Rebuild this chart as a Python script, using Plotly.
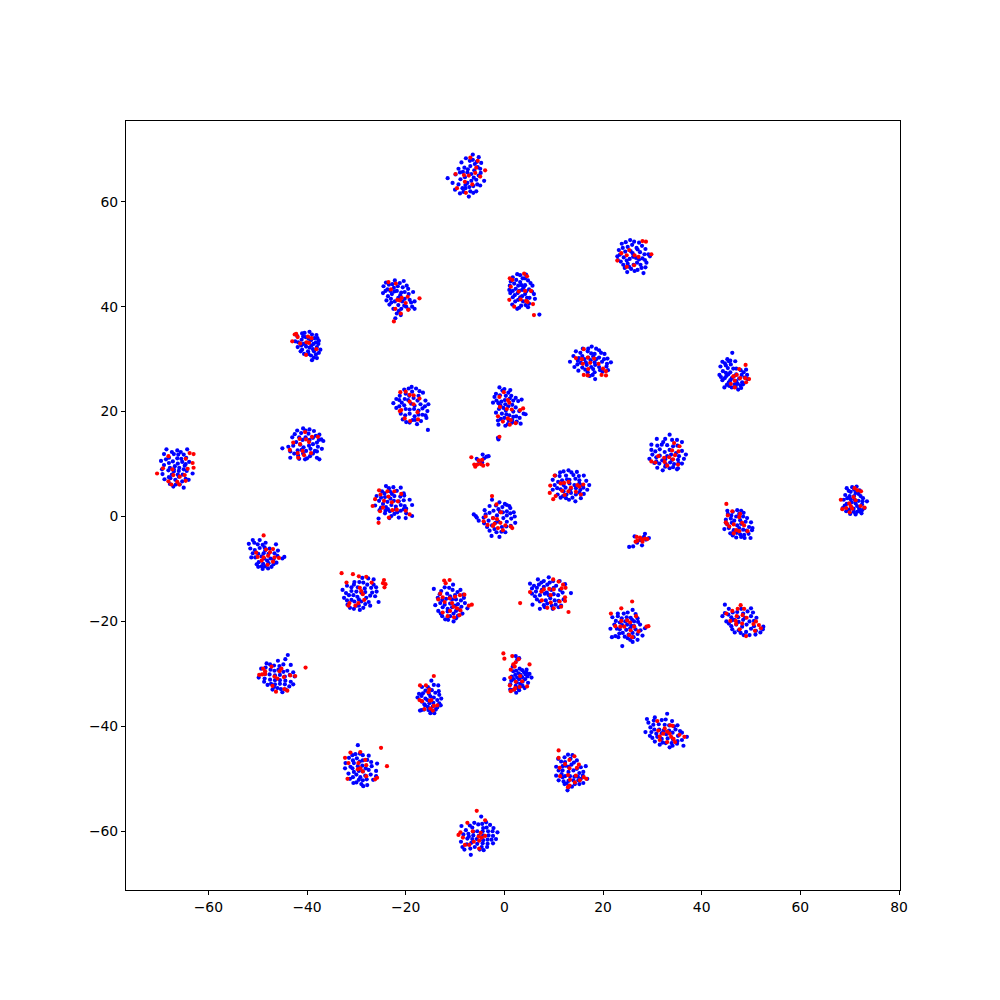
import plotly.graph_objects as go

blue_01 = [(-6.4,69.0),(-5.2,68.5),(-7,67.8),(-4.7,67.4),(-8.7,67.5),(-6.9,66.8),(-9.3,66.3),(-8.1,66.5),(-4.9,66.3),(-7.5,65.6),(-9.9,65.2),(-11.5,64.5),(-10.5,63.6),(-4.1,64),(-6.2,64.6),(-8.9,64.3),(-7.5,63.6),(-5.5,63.3),(-7.9,62.6),(-9,61.6),(-10,62.3),(-6.9,62),(-7.2,61),(-5.7,62),(-6.3,63),(-8.5,62.6),(-5.2,65),(-6.1,66),(-6.7,64),(-7.9,63.2),(-6.4,68),(-5.6,67.6),(-8.4,65.7),(-7.1,62.8),(-7.8,68.3),(-6,67.2),(-7.4,66.2),(-5.4,66.6),(-9,65.6),(-6.7,65.3),(-4.8,65.5),(-8,64.7),(-5.7,64.2),(-9.3,63.3),(-4.9,63.1),(-6.3,61.7),(-8.3,61.9)]
red_01 = [(-6.9,68.4),(-5.4,67.8),(-3.9,66),(-5.7,66.5),(-8.2,65.1),(-7.2,65),(-9.9,65.3),(-5.9,65.5),(-8,63.8),(-6.5,63.3),(-9.6,62.6),(-7.8,61.7),(-4.9,64.8)]
blue_02 = [(25.5,52.7),(27.3,52.2),(23.8,52),(25,51.4),(26.8,51.2),(28.6,51),(23.2,50.8),(24.5,50.5),(26,50.2),(27.5,50.4),(29.2,50),(22.9,49.6),(24.2,49.4),(25.4,49.1),(26.7,49.3),(28,49.2),(29.5,49.6),(23.6,48.6),(25,48.2),(26.2,48),(27.6,48),(28.8,48.4),(24.4,47.4),(25.7,47.2),(27,47),(28.2,46.4),(26.4,46.8),(24.9,46.6),(25.9,51.8),(24.1,48),(24.6,52.3),(26.3,52.4),(27.9,51.6),(24,51.2),(25.6,50.6),(27,50.9),(28.4,50),(23.4,49.9),(26.1,49.5),(27.3,49),(28.5,48.9),(23,48.9),(24.8,48.8),(26.9,48.4),(25.3,47.6),(27.8,47.4),(28.6,47.5)]
red_02 = [(28,52.5),(28.7,52.4),(23.7,50.2),(25.3,50.8),(26.4,49.8),(24.8,49.8),(27.2,49.5),(22.9,48.8),(24.8,47.6),(26.3,47.9),(29.8,50)]
blue_03 = [(-22.2,45),(-20.4,44.9),(-24,44.6),(-22.7,44.3),(-24.5,43.9),(-21.6,43.9),(-19.8,44),(-23.7,43.3),(-21.8,43),(-24.6,42.6),(-20.2,42.8),(-22.8,42.4),(-23.6,42),(-21.5,41.7),(-18.5,42.8),(-22.2,41),(-20.2,41.5),(-18.2,41),(-18.7,40),(-23.3,40.4),(-21.5,40.3),(-19.9,40),(-20.9,39.6),(-22.5,39.6),(-21.8,38.7),(-22.1,37.8),(-21,38.4),(-18.2,39.6),(-23.1,43),(-20.9,42.7),(-19.5,43.4),(-22.4,43.6),(-21.2,44.5),(-23.4,44.2),(-20.6,43.7),(-22.3,42.9),(-24.1,43),(-19.4,42.4),(-21.1,42.2),(-23,41.5),(-19.2,41.3),(-20.7,41),(-22.9,40.8),(-18.9,40.8),(-20.3,40.2),(-21.4,39.2),(-19.4,39.5),(-23.9,41.2)]
red_03 = [(-23.5,44.7),(-22,44.4),(-23,43.3),(-19.6,41.9),(-21.7,41.3),(-21.2,41.2),(-20.8,41.7),(-17.2,41.6),(-20,40.7),(-22.1,39.6),(-21,38.7),(-19.5,39.4),(-22.4,37.2)]
blue_04 = [(2.6,46.2),(4.4,46.1),(1.7,45.6),(3.7,45.4),(1.3,44.8),(3.2,44.7),(4.8,45),(1.1,44),(2.8,44),(4.2,44.1),(5.7,44),(1,43.2),(2.3,43.4),(3.6,43.2),(5,43.3),(1.2,42.6),(2.7,42.6),(4.2,42.4),(6,42.4),(1.7,41.8),(3.2,41.8),(5.1,41.7),(6.2,41.5),(2.2,41),(3.8,41),(5,40.6),(1.6,40.4),(3.4,40.2),(4.8,39.9),(2.6,39.6),(7.1,38.5),(3.9,43.7),(3.2,46),(2.4,45.1),(4.2,45.4),(5.3,44.5),(2,44.4),(3.5,44.1),(1.7,43),(3,43),(4.4,42.9),(5.6,42.9),(2.1,42.2),(3.6,42),(4.6,41.7),(2.8,41.3),(4.3,40.3),(3,39.8)]
red_04 = [(1.1,45.4),(1.6,45.1),(4,46.3),(4.6,45.8),(1.3,43.8),(2.9,42.9),(4.2,43),(5.4,43),(1,41.3),(3.3,41.4),(4.4,41.1),(4.7,40.9),(2,40),(5.8,40.5),(6,38.4)]
blue_05 = [(-39.5,35.2),(-41,34.9),(-38.1,34.6),(-42,34.4),(-40.3,34.2),(-37.9,34),(-41.1,33.7),(-39.2,33.6),(-42.4,33.4),(-40.3,33),(-37.6,33.5),(-38.7,32.9),(-41.2,32.6),(-39.5,32.2),(-38,32.3),(-37.3,31.8),(-41,31.8),(-39.8,31.5),(-38.6,31.5),(-40.6,31),(-38.2,30.9),(-39.2,30.7),(-39,29.8),(-38,30.2),(-41.9,32.3),(-37.7,32.9),(-40.5,35),(-39,34.7),(-40.8,34.3),(-38.5,34),(-41.8,33.2),(-39.7,33.9),(-38.2,33.2),(-40.7,32.9),(-39.1,32.6),(-40.2,32.4),(-38.8,31.9),(-41.3,31.5),(-37.6,31.2),(-39.7,31),(-38.6,30.3)]
red_05 = [(-42.5,34.7),(-41.9,34.2),(-43,33.4),(-40.1,33.2),(-39.6,33.1),(-39.8,34.3),(-41.4,33),(-38.1,31.9),(-40.2,30.8),(-39.1,34),(-42.2,34.8)]
blue_06 = [(17.7,32.4),(15.9,32),(19.2,31.7),(14.5,31.5),(16.9,31.5),(18.3,31),(20.3,31),(14,30.6),(15.8,30.6),(17,30.3),(19.2,30.3),(20.9,30.1),(13.3,29.5),(14.9,29.7),(16.5,29.4),(18.3,29.4),(19.8,29.5),(21.6,29.4),(14.2,28.5),(15.8,28.4),(17.6,28.5),(19.2,28.5),(20.7,28.6),(15,27.8),(16.9,27.5),(18.3,27.5),(19.9,27.6),(21,27.9),(17.3,26.8),(18.4,26.2),(16.2,30),(18,30.5),(17,32),(18.6,32),(15.4,31.2),(17.6,31.1),(19.6,31.2),(15.1,30.2),(18.6,30),(20.2,30),(15.5,29.3),(17.5,29.8),(20.8,29.1),(14.8,29),(16.7,28.9),(18.4,28.9),(16.4,28),(18,28.1),(19.4,27.9),(17.9,27)]
red_06 = [(16.1,31.9),(14.5,30.2),(15.7,30),(16.9,30.3),(18.2,30.1),(15.9,29.1),(17.4,29.3),(19.1,29.1),(17,28.1),(20,28.2),(20.6,27.7),(16.1,27),(16.9,26.9),(19.7,27),(20.6,26.9)]
blue_07 = [(46.2,31.2),(45.2,30),(46.8,29.6),(44.7,29.2),(45.9,29),(43.8,28.6),(45.3,28.3),(47,28.2),(44.3,27.7),(45.8,27.5),(47.9,27.9),(49,28),(43.6,27),(45,26.8),(46.5,26.7),(48.1,27),(49.2,27),(44.2,26),(45.8,26),(47,25.8),(48.2,25.6),(45.1,25.1),(46.7,25.2),(47.9,25),(44.6,24.6),(46.1,24.6),(47.4,24.2),(49.3,26.2),(45.8,29.7),(44.9,27.4),(44.2,29.5),(45.5,29.6),(44.9,28.8),(46.4,28.2),(43.9,26.6),(45.4,27.1),(47,27.1),(48.5,27.5),(44.7,26.4),(46.1,26.4),(47.6,26.3),(48.7,26.5),(45.5,25.6),(47.3,25.3),(48.4,25.2),(45.6,24.9),(46.9,24.7),(48,24.5)]
red_07 = [(48.9,28.9),(47.6,28.1),(47.1,27),(46.4,26.7),(48.8,26.4),(46.7,25.9),(47.8,26.4),(49,25.6),(49.6,26.2),(45.9,25.3),(46.7,24.6)]
blue_08 = [(-18.8,24.7),(-17.9,24.4),(-20.3,24.2),(-18.7,23.8),(-20,23.4),(-16.5,23.6),(-21.9,22.4),(-20.2,22.4),(-18.4,22.6),(-16,22.1),(-22.5,21.6),(-20.8,21.7),(-18.9,21.5),(-17,21.4),(-15.4,21.4),(-21.9,20.7),(-20,20.5),(-18.3,20.5),(-16.6,20.6),(-15.6,20.1),(-21,19.6),(-19.2,19.6),(-17.4,19.4),(-16,19.3),(-20.6,18.5),(-18.6,18.4),(-16.9,18.2),(-15.8,18.8),(-19.9,18),(-17.7,17.6),(-15.5,16.5),(-21.3,21),(-19.4,24.4),(-17.2,23.9),(-21.2,23),(-19.3,23),(-17.4,23),(-21.3,22.2),(-19.5,22.2),(-17.6,22.1),(-20.3,21.2),(-18.2,21.1),(-16.1,21),(-19.2,20.4),(-17.4,20.2),(-20.1,19.3),(-18.2,19.1),(-16.6,19.4),(-19.2,17.9),(-18.1,18.4)]
red_08 = [(-21.1,23.7),(-20,23.8),(-19.2,23.2),(-18.4,23.1),(-17.2,22.5),(-19.2,21.9),(-18.4,21.4),(-21.2,20.1),(-20.9,20.3),(-17.6,19.9),(-20.2,18.7),(-17.5,18.5),(-19.1,18.2)]
blue_09 = [(-1,24.6),(-0.4,24),(1.2,24.1),(-1.7,23.4),(0.3,23),(2.3,22.6),(-1.6,22.1),(0.1,22.2),(1.8,22.1),(3.5,22.3),(-2.3,21.7),(-0.8,21.2),(0.8,21),(2.3,20.8),(-1.1,20.5),(0.3,20.2),(1.8,20),(3.9,19.6),(4.3,19.5),(-0.5,19.6),(1,19.3),(2.4,19.1),(-0.7,18.6),(0.9,18.3),(2.5,18.1),(-1.3,18.3),(1.6,17.9),(3.3,17.7),(0.2,17.3),(-1.2,17.5),(-0.6,21.9),(1.4,23),(0,24.3),(0.8,23.6),(-0.9,23.1),(-2,22.8),(1.1,22.5),(2.8,22),(-1.2,21.6),(0.2,21.4),(1.6,21.3),(-0.2,20.7),(3,20.1),(-1.7,19.8),(0.4,19.5),(1.8,19),(3.1,18.8),(0,18.8),(1.6,18.4),(0.7,17.6)]
red_09 = [(-0.1,23.7),(-1,22.8),(0.7,22.2),(1,21.7),(-0.9,20.9),(0.5,20.5),(1.5,20.4),(3.2,20.3),(3.8,20.6),(-1.3,19.1),(0.7,18.7),(1.3,18.4),(-0.3,18.1),(1.1,17.5),(2.3,17.8)]
blue_10 = [(-40.8,16.8),(-39.5,16.6),(-42,16.4),(-38.6,16.3),(-41.2,15.9),(-39.7,15.8),(-37.5,15.6),(-43,15.1),(-41.6,15.1),(-40.3,15.1),(-38.8,15),(-37.1,14.7),(-42.2,14.2),(-38,14.1),(-36.7,14.4),(-42.8,13.5),(-40.7,13.2),(-39.6,13.5),(-37.8,13.3),(-37,12.9),(-45,13),(-43.4,12.4),(-41.9,12.6),(-40.2,12.5),(-38.4,12.5),(-43.4,11.2),(-41.8,11.6),(-40,11.1),(-38,11.2),(-41.6,11),(-40.4,10.9),(-38.8,12),(-37.5,10.9),(-40.3,16.4),(-42.5,15.7),(-38.2,15.4),(-40.9,14.6),(-39.5,14.6),(-37.6,14.6),(-41.4,13.7),(-38.8,13.8),(-43.8,13.3),(-41.1,12.7),(-39.3,12.9),(-38,12.4),(-42.6,12),(-40.8,12),(-39.4,11.5)]
red_10 = [(-40.4,16.1),(-39,15.2),(-41.5,14.8),(-40.2,14.7),(-37.8,15.2),(-42.8,14.1),(-41.4,13.8),(-39.6,14.2),(-43.5,12.7),(-41.9,12.1),(-40.9,12.5),(-39.2,12.1),(-41.8,11.2),(-40.6,11.7)]
blue_11 = [(33.5,15.6),(30.9,14.8),(32.2,14.2),(34,14.6),(36,14.2),(29.8,13.7),(31,13.5),(33,13.6),(35.1,13.5),(29.8,12.7),(31.5,12.8),(33.5,12.7),(36,12.5),(30,11.8),(31.5,11.6),(33.8,11.8),(35.4,11.5),(29.4,11),(32,10.7),(34,10.8),(36.4,11),(30.4,10.2),(32.7,10),(34.4,10),(36,10.1),(31,9.3),(33.5,9.2),(35.2,9.2),(32.1,8.8),(35,9),(30.8,10.5),(33,11.5),(36.8,11.8),(32.6,14.8),(35,14.6),(31.9,13.7),(34.2,13.4),(30.6,12.4),(32.5,12.3),(34.8,12.1),(30.8,11.3),(32.6,10.9),(35.2,10.8),(31.4,10.1),(33.6,10.3),(35.3,10.2),(32.6,9.5),(34.2,9.4)]
red_11 = [(34.4,14),(35.5,13.4),(34,12.6),(35.3,12.4),(31.2,11.5),(32.4,11.2),(33.4,11.3),(34.6,11.7),(34.2,10.9),(29.8,10.5),(30.6,10.3),(33,9.7),(35.2,9.9),(32.5,10.4)]
blue_12 = [(-4.4,11.8),(-5.6,11),(-4.1,11.1),(-3.6,11.4),(-4.5,10.3),(-5.2,10.6),(-1.3,15),(-1.2,14.7),(-3.2,11.5)]
red_12 = [(-6.7,11.3),(-5.2,10.7),(-4.5,10.8),(-4.8,10),(-3.4,9.9),(-5.9,9.5),(-5.5,9.9),(-4.3,9.7),(-1,15.2),(-6.1,9.9)]
blue_13 = [(-68.5,12.8),(-66.3,12.6),(-64.3,12.8),(-69,11.9),(-67,11.9),(-65,11.8),(-68,11.2),(-66.3,11.1),(-64.5,11.2),(-69.6,10.6),(-67.2,10.5),(-65.3,10.4),(-63.9,10.4),(-69,9.8),(-66.8,9.6),(-64.8,9.7),(-68.1,8.8),(-66,8.7),(-64.4,8.7),(-69.3,8.1),(-67.4,8),(-65.2,8),(-63.2,8.2),(-68.9,7.1),(-66.7,7),(-64.6,7.2),(-67.8,6.2),(-65.8,6.1),(-64,7),(-67.1,5.7),(-65,5.5),(-66,7.6),(-67,9),(-68,7.5),(-67.4,12.3),(-65.6,12.3),(-66.1,11.8),(-68.6,10.9),(-65.5,11),(-68,10.2),(-66.2,10.1),(-64.6,10),(-67.8,9.3),(-65.9,9.3),(-69.4,9),(-67,8.6),(-65,9),(-66.2,8),(-67.7,7.3),(-65.3,6.7),(-66.6,6.1)]
red_13 = [(-68.1,11.5),(-63.8,12.1),(-63,11.9),(-64.6,11),(-63.2,10.2),(-69.2,9.2),(-63,9.3),(-64.2,9.1),(-67.3,9),(-70.4,8.2),(-67.1,7.9),(-65.8,7.6),(-64.8,7.9),(-68.1,6.7),(-66.3,6.6),(-64.6,6.8),(-65.9,6.1),(-67.5,6.1)]
blue_14 = [(13,8.8),(11.3,8.4),(14.7,8.5),(10.3,7.8),(12.5,7.8),(14,7.9),(16.1,7.8),(9.8,7),(11.7,6.9),(13.2,7),(15.2,6.9),(16.6,6.8),(10.2,6),(12,6),(14.2,6),(15.8,6),(17.2,6),(9.8,5.1),(11.4,5.2),(13.4,5.2),(15.4,5.1),(16.8,5.1),(10.8,4.2),(12.6,4.2),(14.5,4.2),(16.1,4.3),(11.4,3.6),(13.8,3.6),(15.5,3.5),(13.1,3.2),(14.4,2.9),(12,4.8),(12,8.6),(13.6,8.4),(11.2,7.7),(15.1,7.7),(12.7,7.1),(14.4,7.2),(10.9,6.6),(13.2,6.3),(15.2,6.3),(10.7,5.4),(12.4,5.5),(14.5,5.4),(16,5.5),(13.5,4.5),(11.9,3.9),(15.2,4.6),(12.5,3.5)]
red_14 = [(10.2,7.8),(13,6.6),(11.4,6.3),(12.1,6.4),(14.8,6),(16,6.1),(9.3,5.9),(13.5,5.5),(15.2,5.7),(11.7,4.9),(13,4.8),(14.5,4.7),(12.2,4.1),(9.2,4.5),(10.4,3.9),(9.9,3.3),(15.5,4.2)]
blue_15 = [(70.5,5.6),(71.4,5.7),(69.4,5.4),(72,5),(70.2,4.7),(71.8,4.3),(69.1,4.1),(70.9,3.9),(72.7,3.5),(68.8,3.2),(70.2,3.3),(71.8,3),(73.5,2.9),(69.4,2.4),(71.2,2.5),(72.5,2.3),(68.6,1.6),(70.3,1.8),(71.9,1.5),(73,1.6),(69.3,1),(70.8,0.9),(72,1),(70.1,0.5),(71.2,0.4),(72.4,0.6),(70.9,5.1),(69.8,4.9),(71.2,4.5),(70,3.9),(72.2,3.9),(69.5,3.5),(71,3.2),(72.6,2.9),(70.4,2.7),(69,2.1),(71.5,2),(70.8,1.5),(72.5,1.2),(69.9,1.3),(71.5,0.9)]
red_15 = [(71,5.4),(71.6,5),(72.3,4.8),(70.8,3.7),(71.2,3.1),(68.2,3.2),(69.9,2.5),(70.2,2),(72.2,2),(69.3,1.6),(68.5,1.4),(70.5,1.5),(70,0.8),(73,1.7)]
blue_16 = [(-24,5.8),(-22.5,5.6),(-21,5.5),(-24.8,4.8),(-23.2,4.8),(-20.4,4.4),(-25.9,3.9),(-24.2,3.7),(-22.3,3.9),(-20.3,4),(-25.4,3),(-23.7,2.8),(-21.4,2.9),(-19.2,3.2),(-26.2,2.1),(-24,1.8),(-22,1.9),(-20.2,2),(-25.3,1.2),(-23.2,1),(-21,1.1),(-18.7,2.2),(-24.2,0.6),(-22.3,0.5),(-19.9,0.6),(-18.7,0.1),(-23.3,-0.3),(-21.4,-0.2),(-25.5,-0.4),(-20,-0.3),(-19.9,1.5),(-22.4,3),(-23.4,5.4),(-21.8,4.9),(-24.3,4.4),(-22.8,4.3),(-21.1,3.8),(-25,3.6),(-23.1,3.4),(-20.4,3.1),(-24.6,2.4),(-22.9,2.2),(-21,2.2),(-25,1.7),(-23.6,1.4),(-22,1.3),(-20.4,1.4),(-24.1,1.1),(-21.7,0.8),(-22.9,0.1)]
red_16 = [(-25.4,5),(-25.1,4.2),(-23.7,4.8),(-22.3,4.8),(-20.9,4.3),(-23.5,3.8),(-24.4,3),(-22.8,2.7),(-26.2,3.3),(-21.6,2.9),(-26.7,2),(-24.6,1.7),(-22.7,1.2),(-21.8,1.3),(-20,1.1),(-25.2,1),(-23.4,-0.2),(-19.2,0.4),(-25.5,-1.2)]
blue_17 = [(-2.5,3.2),(-1,2.7),(0.5,2.2),(-3,2),(-0.4,1.8),(1.2,1.6),(-4,1.2),(-2.2,1.1),(0.5,1),(1.9,0.8),(-6.2,0.4),(-5.6,-0.2),(-3.8,0.4),(-1.5,0.2),(0.5,0.2),(2.1,0),(-5.2,-0.8),(-3.2,-0.8),(-1.2,-1),(0.5,-1),(-2.5,-1.7),(-0.5,-2),(1.3,-1.8),(-3,-2.7),(-1.6,-3),(0.2,-3),(-2.6,-3.7),(-1,-3.9),(2.2,-1.2),(-0.3,0.8),(-4.2,-0.2),(-1.7,2.1),(0.1,2.4),(-1.2,1.4),(1,2),(-3,0.7),(-0.9,0.9),(1.2,0.6),(-2.3,-0.3),(-0.2,-0.3),(1.4,-0.4),(-4.1,-1.3),(-1.8,-1.2),(0.4,-1.9),(-3.5,-2),(-0.6,-2.9),(-2,-2.4),(-5.8,0.1)]
red_17 = [(-2.5,3.9),(-1.6,2.3),(-0.7,0.8),(-3.8,0),(-2.3,-0.3),(-1.5,-0.5),(-4.2,-0.9),(-2,-1.4),(-0.8,-1.2),(-2.3,-1.8),(0.2,-1.7),(1.3,-1.9),(-1.3,-2.2),(-0.3,-2.6),(1.6,-2.2),(-3.4,-1.6)]
blue_18 = [(45.2,1.1),(47.2,1.2),(48.5,0.7),(46,0.2),(48.4,0),(44.9,-0.6),(46.6,-0.8),(48.9,-1),(50,-1.1),(45.2,-1.5),(47.2,-1.7),(49.6,-2),(44.6,-2.4),(46.5,-2.6),(48.4,-2.5),(50.2,-2.6),(45.8,-3.2),(47.8,-3.4),(49.5,-3.3),(47,-4),(48.7,-4.1),(49.9,-4.1),(46.4,-3),(50.3,-2.2),(44.9,-1.2),(47.6,0.5),(46.3,0.9),(48,1.1),(45.3,0.5),(47,0),(45.9,-0.4),(47.8,-0.7),(49.2,-0.3),(46.1,-1.2),(48,-1.4),(45.5,-2.2),(47.6,-2.2),(49.1,-2.7),(47.1,-3.1),(48.6,-3.5),(46.3,-3.6),(48,-3.9)]
red_18 = [(45,2.4),(46.2,1),(47.8,0.5),(45.3,0.2),(47.6,-0.1),(44.9,-1.1),(46.5,-1.5),(48.6,-1.7),(45.6,-1.9),(47,-2.6),(49.3,-2.8),(47.6,-2.8),(45.1,-1.4),(48.2,-1.2),(46.5,-3.2)]
blue_19 = [(28.5,-3.3),(26.4,-3.8),(27.5,-4.5),(26.9,-5),(26.1,-5.7),(27.9,-5.5),(28.7,-4.4),(29.3,-4.1),(25.3,-5.8),(28.3,-3.9)]
red_19 = [(26.8,-3.9),(27.5,-4),(27,-4.6),(28.5,-4.2),(27.9,-4.4),(26.6,-4.8),(28,-4.8),(29,-4.3)]
blue_20 = [(-51,-4.5),(-49.6,-4.5),(-48.4,-5),(-51.8,-5.2),(-50,-5.3),(-46.3,-5.3),(-51.5,-6.1),(-49.6,-6),(-47.6,-6.1),(-45.9,-6.5),(-51,-7),(-48.8,-7),(-46.6,-7),(-44.6,-7.7),(-45,-8),(-50.5,-7.8),(-48.7,-8),(-47.4,-8),(-49.8,-8.7),(-47.8,-8.9),(-46.2,-8.8),(-49.2,-9.5),(-47.2,-9.6),(-46.8,-8.2),(-48.6,-5.9),(-50.2,-9.1),(-49,-10),(-50.7,-5),(-49,-5.4),(-50.6,-6.4),(-48.5,-6.5),(-49.9,-7.1),(-47.8,-7.1),(-46,-7.5),(-49.2,-7.6),(-51.3,-7.8),(-48.1,-8.4),(-48.9,-9),(-46.8,-9.1),(-47.9,-9.9),(-49.9,-9.6),(-48.5,-9.5)]
red_20 = [(-48.8,-3.6),(-46.9,-6.2),(-48.3,-6.3),(-47.5,-6.8),(-46.6,-7.8),(-45.7,-7.9),(-50.3,-6.9),(-50,-7.7),(-47.9,-7.5),(-49.2,-8.4),(-48,-9.2),(-46.9,-8.6),(-48.8,-7.8)]
blue_21 = [(-28.8,-11.7),(-27.6,-11.8),(-29.4,-12.5),(-27.8,-13),(-26.5,-13),(-31.9,-13.2),(-29.7,-13.5),(-28.3,-13.7),(-26,-13.5),(-32.8,-14),(-31,-14.2),(-29,-14.5),(-26.8,-14.5),(-31.5,-15),(-29.8,-15.3),(-28,-15.5),(-26.2,-15.2),(-32.5,-15.5),(-31,-15.9),(-29,-16.2),(-27.5,-16.3),(-25.5,-16.3),(-31.8,-16.8),(-30,-17),(-28.6,-17.4),(-31.3,-17.4),(-29.3,-17.8),(-27.2,-17),(-30.5,-13),(-26.5,-12),(-30.4,-12.5),(-28.6,-12.6),(-31,-13.5),(-27,-13.6),(-30,-14.3),(-28.2,-14.4),(-25.9,-14.3),(-32.1,-14.6),(-30.6,-15),(-27.2,-15.1),(-29.5,-15.8),(-31.9,-16),(-28.2,-16.7),(-30.4,-16.2),(-29.5,-17),(-30.5,-17.6)]
red_21 = [(-33,-10.8),(-30.7,-11),(-29.5,-11.4),(-28,-11.5),(-32,-12.6),(-26.9,-12.6),(-24.4,-12.1),(-24.6,-12.7),(-24.1,-12.9),(-24.3,-13.5),(-29.3,-13.6),(-29,-14.2),(-28.7,-14.8),(-31.6,-17),(-31.4,-16.5),(-29.6,-16.5),(-30.2,-17),(-28.4,-15.9)]
blue_22 = [(-10.4,-13),(-14.3,-13.8),(-12.1,-13.5),(-10.5,-14),(-8.9,-14),(-13.1,-14.8),(-11.6,-14.7),(-10,-15),(-8.3,-14.9),(-13.5,-15.5),(-11.8,-15.7),(-9.8,-15.8),(-8.2,-15.5),(-13,-16.5),(-11,-16.6),(-9.4,-16.7),(-12.5,-17.3),(-10.6,-17.3),(-8.7,-17.2),(-7.5,-17.5),(-13.4,-18),(-11.5,-18.1),(-9.8,-18),(-12.6,-19),(-11,-19),(-9.4,-18.9),(-12,-19.6),(-10.3,-20),(-8.5,-18.5),(-14,-16.9),(-11.2,-13.6),(-12.8,-14.2),(-9.5,-14.4),(-11,-15.2),(-12.6,-15.9),(-10.6,-15.8),(-8.8,-16),(-12.1,-16.8),(-10,-17),(-8,-16.5),(-11.5,-17.6),(-9.2,-17.7),(-12.9,-18.5),(-10.3,-18.5),(-11.4,-19.7),(-9.8,-19.4)]
red_22 = [(-12.2,-12.2),(-11.9,-12.7),(-11.1,-12.1),(-13,-14.7),(-12.5,-15.4),(-11.1,-15.6),(-10,-15.3),(-9,-15),(-8.1,-14.9),(-13.4,-15.8),(-12.1,-16.3),(-10.6,-16.5),(-10.3,-17.2),(-11,-18),(-9.6,-17.5),(-8.9,-17.9),(-12.5,-18.3),(-11.5,-19),(-10.2,-19.2),(-9.1,-18.8),(-7.2,-17),(-6.6,-16.8)]
blue_23 = [(9,-11.6),(6.8,-12),(8,-12.3),(9.9,-12.3),(11.2,-12.3),(5.2,-12.8),(7,-13),(8.7,-13),(10.5,-13.2),(12.3,-12.9),(5.6,-13.7),(7.6,-14),(9.5,-14),(11.3,-14),(5.6,-14.7),(7.2,-15),(9,-15),(10.9,-15),(13.5,-14.6),(6.6,-15.8),(8.4,-16),(10.2,-16),(12,-15.8),(5.7,-16.8),(8,-16.9),(9.6,-17),(11,-17.3),(7.2,-17.6),(9.8,-17.6),(11.5,-17),(6.4,-14.3),(8.6,-14.5),(7.5,-12.6),(9.2,-12.6),(6,-13.2),(8,-13.4),(10,-13.6),(11.8,-14.5),(6.6,-13.6),(8.2,-14.7),(10,-14.8),(7.2,-16.2),(9.3,-15.6),(11,-16.1),(6.2,-15.2),(8.7,-16.6),(10.4,-16.8),(8.2,-17.3)]
red_23 = [(9.9,-12),(11,-12.4),(11.9,-13),(8,-13.9),(9.1,-13.8),(10,-13.9),(11.6,-13.7),(12.4,-13.6),(7.5,-14.3),(5.2,-14.4),(9.4,-15),(12.3,-15.4),(7.6,-16),(9.4,-16.4),(11.2,-16.2),(12.3,-16.1),(8.7,-17.4),(10,-17.5),(11.5,-17.2),(13,-18.2),(3.2,-16.5)]
blue_24 = [(26,-17.8),(24.2,-18.5),(21.9,-19.2),(23.8,-19.4),(25.6,-19.3),(27,-19.4),(22.6,-19.9),(24.5,-20),(26.3,-20),(22.3,-20.6),(23.9,-20.7),(25.7,-20.8),(27.5,-20.6),(22.8,-21.4),(24.7,-21.6),(26.6,-21.5),(21.5,-21.4),(23.3,-22.3),(25.2,-22.5),(27,-22.4),(22.5,-22.8),(24.4,-22.9),(26.2,-23),(25.5,-23.5),(27,-23.5),(23.9,-24.7),(21.8,-23),(28.5,-21.3),(28,-22.7),(23,-18.5),(25,-18.3),(26.6,-18.6),(23,-19),(24.8,-19.2),(25.9,-19.7),(23.4,-20.2),(27.1,-20.1),(24.9,-20.6),(26.3,-20.9),(23.4,-21.5),(25.5,-21.3),(27.6,-21.7),(24,-22.2),(26,-22.2),(23.1,-23),(25,-23.2),(26,-23.9)]
red_24 = [(25.9,-16.2),(23.7,-17.5),(21.6,-18.5),(26.7,-19),(23.7,-19.9),(24.9,-19.8),(25.5,-20.2),(23.5,-21),(26.3,-21),(28.8,-21),(22.5,-20.9),(25.6,-21.7),(25.3,-22.6),(25.9,-23),(27.2,-21.9),(24.3,-21),(29.2,-20.9)]
blue_25 = [(44.7,-16.8),(45.5,-17.6),(48,-17.6),(50,-17.5),(46.3,-18.3),(48.4,-18.5),(50.4,-18.3),(44.2,-19),(46,-19.2),(48.8,-19.3),(51.1,-19.3),(45,-20),(47.5,-20.1),(49.7,-20),(46,-20.9),(48.2,-21),(50.6,-20.9),(52.4,-21.5),(47.5,-21.7),(49,-22),(51,-21.8),(46.7,-22.1),(48.5,-22.6),(50.9,-22.5),(52.5,-21),(46.6,-19.7),(44.7,-18.4),(47.2,-18.2),(49.3,-18.1),(45.4,-18.7),(47.4,-19.2),(50,-19),(46.1,-19.8),(48.4,-19.7),(50.6,-19.9),(47,-20.6),(49.1,-20.6),(45.5,-20.4),(47.9,-22.2),(50,-21.4),(46.2,-21.5),(49.7,-22.6),(51.9,-22.1)]
red_25 = [(47.9,-16.9),(47.3,-17.6),(46.2,-18),(48.6,-17.6),(45,-18.5),(48.3,-18.8),(47.1,-19),(49.1,-19.3),(46.9,-19.9),(45.8,-19.9),(48.2,-20.4),(47,-20.5),(51,-20),(51.6,-20.7),(50.5,-20.5),(47.7,-21.5),(52,-21.3),(50.8,-21.8),(49,-22.8)]
blue_26 = [(-43.9,-26.4),(-45.9,-27.5),(-44.4,-27.2),(-48.2,-28),(-46.7,-28.4),(-44.8,-28.2),(-43.3,-28.3),(-49.3,-29),(-47.4,-29.2),(-45.8,-29.2),(-44,-29.4),(-42.8,-29.7),(-48.5,-30),(-46.5,-30.3),(-44.5,-30.5),(-42.5,-30.5),(-49.8,-30.7),(-47.5,-31.1),(-45.5,-31.2),(-43.3,-31.5),(-46.5,-32),(-44.5,-32),(-42.8,-32),(-48,-32.1),(-46,-32.7),(-44.3,-33),(-47,-33),(-45,-33.5),(-48.7,-31.5),(-47.5,-28.2),(-45.6,-28.5),(-48.4,-28.8),(-46.6,-29.4),(-44.8,-29.6),(-47.6,-30.1),(-45.5,-30.2),(-43.5,-30.2),(-48.6,-30.9),(-46.5,-31.2),(-44.4,-31.3),(-47.3,-31.9),(-45.5,-31.9),(-43.6,-32.4),(-46.7,-32.5),(-45.3,-32.9)]
red_26 = [(-47.2,-28.6),(-48.9,-29),(-48.5,-29.5),(-45.2,-29),(-45.6,-29.5),(-46.6,-30.5),(-44.7,-30.6),(-49.7,-30.2),(-49.1,-30.1),(-48.5,-30),(-43.4,-30.3),(-42.4,-30.4),(-40.3,-28.8),(-46,-30.9),(-47,-32.3),(-44.6,-32.9),(-46.3,-33.4),(-44,-33.2)]
blue_27 = [(2.3,-26.6),(2.6,-27.3),(3,-27),(1.7,-28.6),(3.1,-29),(4.5,-29.2),(1.8,-29.5),(2.9,-29.9),(4,-29.7),(5.1,-30),(1.5,-30.5),(2.6,-30.7),(3.6,-30.6),(4.7,-30.5),(5.5,-30.7),(-0,-31),(1.4,-31.3),(2.5,-31.6),(3.7,-31.5),(4.8,-31.7),(1.2,-32),(2.3,-32.3),(3.2,-32.4),(1.9,-33),(3,-33.1),(1.2,-33),(2.4,-33.6),(4.1,-32.7),(3.3,-30.2),(2.4,-29.4),(3.6,-29.3),(2.2,-30.2),(4.3,-30.1),(3,-31),(4.2,-31),(1.9,-31),(3.2,-31.9),(2.7,-32.7),(3.7,-32.3),(4.5,-29.8)]
red_27 = [(-0.2,-26.1),(0,-27.1),(1.6,-26.6),(2.3,-27.8),(2.9,-27.2),(5.1,-28.2),(1.8,-28.2),(1.3,-29.2),(2.1,-28.6),(3.2,-30.4),(1.2,-30.7),(2.3,-31.5),(1.1,-32.2),(3.1,-32.5),(2,-33),(4.6,-32.4),(1.3,-33.3),(2.2,-32.7),(3.6,-31.4)]
blue_28 = [(-14.8,-31.3),(-16.7,-32.5),(-14.3,-32.1),(-13.4,-32.2),(-16,-33.2),(-14.7,-33.1),(-13.3,-33.3),(-17.3,-33.8),(-15.3,-33.8),(-13.2,-34),(-17.6,-34.5),(-16,-34.7),(-14.3,-34.5),(-12.8,-34.7),(-16.7,-35.3),(-15.2,-35.6),(-13.2,-35.6),(-16.1,-36),(-14.5,-36.2),(-12.9,-36),(-16.8,-36.9),(-15.4,-36.9),(-13.9,-36.8),(-15,-37.5),(-14.2,-37.5),(-17.1,-37),(-15.5,-32.5),(-15.2,-32.9),(-16.5,-33.7),(-14,-33.6),(-15,-34.3),(-16.8,-34.2),(-13.6,-35),(-15.6,-35),(-14.4,-35.5),(-16.2,-35.8),(-13.6,-36.4),(-15.5,-36.3),(-16.3,-36.8),(-14.7,-37)]
red_28 = [(-14.3,-30.4),(-17.1,-32.2),(-15.9,-32.2),(-15.2,-33),(-15.4,-33.5),(-17.2,-35),(-16.7,-35.2),(-15.1,-35.1),(-14.8,-35),(-14.3,-36.1),(-15,-36.6),(-16.2,-36.7),(-14.5,-37),(-13.6,-36)]
blue_29 = [(33,-37.6),(30.5,-38.3),(28.9,-38.6),(31.9,-38.8),(34,-39),(29.2,-39.3),(31.3,-39.6),(33.4,-39.8),(35.1,-39.8),(29.6,-40.2),(31.4,-40.6),(33.4,-40.8),(35.6,-40.9),(28.6,-41.1),(30.8,-41.4),(32.8,-41.5),(35.2,-41.8),(37,-42),(30,-42.2),(31.9,-42.4),(34.2,-42.5),(36,-42.6),(30.5,-42.9),(32.7,-43.2),(35,-43.3),(33.5,-44),(36.3,-43.7),(34.1,-43.7),(31.5,-43.5),(29.5,-41.8),(30.3,-38.9),(32.7,-38.7),(30.2,-39.7),(32.5,-39.7),(34.4,-40),(30.4,-40.6),(32.3,-40.8),(34.7,-40.6),(29.8,-41.1),(31.9,-41.3),(34.1,-41.2),(36,-41.2),(31,-42),(33.1,-42.3),(35.1,-42.8),(32.1,-43.1),(33.9,-43.2)]
red_29 = [(31,-39),(33.6,-39.8),(34.1,-39.9),(32.5,-40.4),(33,-41),(32.2,-41.4),(31.5,-41.9),(33.5,-41.4),(35.5,-41.6),(31.5,-42.6),(33.8,-42),(34.3,-42.4),(33,-43),(34.6,-43),(36.5,-42),(31.2,-40.8)]
blue_30 = [(-29.7,-43.6),(-30.2,-45.3),(-28.7,-45.5),(-27.5,-45.6),(-31.5,-46),(-29.9,-46.1),(-28.7,-46.5),(-27,-46.8),(-25.8,-47.1),(-32.2,-47),(-30.5,-47),(-28.8,-47.5),(-26.9,-47.6),(-32.3,-48),(-30.8,-48),(-29.5,-48.5),(-27.5,-48.3),(-26,-48.5),(-31.6,-49),(-30,-49.2),(-28.2,-49.4),(-26,-49.5),(-31.3,-50),(-29.5,-50.2),(-27.9,-50.1),(-26.6,-50.2),(-30.6,-50.8),(-29,-51),(-27.8,-51.2),(-28.6,-51.4),(-30.8,-45.5),(-29.3,-45.2),(-30.7,-46.5),(-29.3,-46.7),(-27.8,-46.4),(-31.2,-47.7),(-29.7,-47.6),(-28.1,-48),(-30.5,-48.7),(-28.7,-48.6),(-30.7,-49.7),(-29.2,-49.7),(-27.1,-49.2),(-28.7,-50.3),(-30,-50.7)]
red_30 = [(-25,-44.1),(-31.2,-45),(-29.2,-44.9),(-32.3,-46),(-28.2,-46.4),(-31.6,-47),(-29.6,-47),(-28,-47.4),(-29.7,-48.2),(-29.2,-48),(-28.7,-48.6),(-23.8,-47.6),(-28,-49.5),(-31.8,-50),(-25.8,-49.8),(-26.2,-50.1)]
blue_31 = [(12.9,-45.4),(13.8,-45.5),(10.9,-46.2),(14.7,-46.5),(12.3,-46.8),(13.6,-47.3),(10.5,-47.7),(11.8,-47.6),(14.7,-48.1),(16.5,-47.6),(11,-48.4),(13,-48.7),(15.2,-48.9),(16,-48.7),(10.5,-49.4),(12.3,-49.5),(14.2,-49.6),(11,-50.3),(13,-50.4),(15,-50.3),(16.8,-50),(12.2,-51),(14.3,-51),(16,-50.8),(11.8,-49.7),(13,-51.6),(12.8,-52.2),(14.9,-49.6),(12.4,-47.5),(13.4,-46.2),(12.2,-45.9),(14.1,-46.9),(11.5,-46.7),(13,-47.7),(15.5,-47.8),(11.8,-48.4),(14,-48.4),(15.9,-49.4),(11.6,-49.1),(13.3,-49.5),(12,-50.5),(14,-50.3),(15.5,-50),(12.6,-50.9),(15.2,-51),(13.7,-51.5)]
red_31 = [(11,-44.6),(11,-46),(14.2,-45.7),(13.2,-46.4),(12.3,-47.2),(15.1,-47.3),(11.2,-47.9),(13.2,-48),(14.7,-47.9),(11.3,-49.5),(12.9,-49.3),(14.5,-49.4),(16.1,-49.7),(16.6,-50),(13.3,-50.2),(15.3,-50.3),(14.3,-50.7),(13.2,-51.3),(12.9,-51.6)]
blue_32 = [(-4.7,-57.2),(-3.7,-58.3),(-5.3,-58.7),(-2.9,-58.8),(-8.7,-59),(-6.5,-59.3),(-4.3,-59.4),(-2.2,-59.4),(-7.8,-59.8),(-5.5,-60),(-3.3,-60),(-1.4,-60.2),(-8.3,-60.6),(-6.3,-60.8),(-4.3,-60.8),(-2.3,-60.9),(-7.5,-61.4),(-5.6,-61.5),(-3.4,-61.6),(-1.7,-61.5),(-8.8,-62),(-6.7,-62.2),(-4.4,-62.3),(-2.3,-62.3),(-8.5,-63),(-6,-63),(-3.5,-63),(-8.1,-63.5),(-5,-63.5),(-6.8,-64.5),(-4.2,-63.6),(-7.2,-61),(-6.1,-58.4),(-4.5,-58.6),(-7,-58.9),(-3.6,-59.3),(-6.3,-60.1),(-4.4,-60),(-2.4,-60),(-7.3,-60.5),(-5.2,-60.9),(-3.2,-60.8),(-6.5,-61.5),(-4.3,-61.7),(-2.6,-61.6),(-7.6,-62.5),(-5.5,-62.4),(-3.4,-62.4),(-6.9,-63.3),(-4.6,-63)]
red_32 = [(-5.6,-56.1),(-3.9,-57.9),(-7.5,-58.4),(-6.4,-60),(-8.9,-60.2),(-4.8,-60.3),(-9.3,-60.7),(-5.2,-61),(-4.6,-61.2),(-3.9,-60.9),(-8.4,-61.2),(-5.1,-61.8),(-8,-62.6),(-7.1,-62.6),(-5.1,-63.3),(-6.2,-62)]

x_ticks = [-60, -40, -20, 0, 20, 40, 60, 80]
y_ticks = [-60, -40, -20, 0, 20, 40, 60]
x_labels = ["\u2212" + str(-t) if t < 0 else str(t) for t in x_ticks]
y_labels = ["\u2212" + str(-t) if t < 0 else str(t) for t in y_ticks]

blue_groups = [blue_01, blue_02, blue_03, blue_04, blue_05, blue_06, blue_07, blue_08, blue_09, blue_10, blue_11, blue_12, blue_13, blue_14, blue_15, blue_16, blue_17, blue_18, blue_19, blue_20, blue_21, blue_22, blue_23, blue_24, blue_25, blue_26, blue_27, blue_28, blue_29, blue_30, blue_31, blue_32]
red_groups = [red_01, red_02, red_03, red_04, red_05, red_06, red_07, red_08, red_09, red_10, red_11, red_12, red_13, red_14, red_15, red_16, red_17, red_18, red_19, red_20, red_21, red_22, red_23, red_24, red_25, red_26, red_27, red_28, red_29, red_30, red_31, red_32]

blue_pts = [p for g in blue_groups for p in g]
red_pts = [p for g in red_groups for p in g]

fig = go.Figure()
fig.add_trace(go.Scatter(x=[p[0] for p in blue_pts], y=[p[1] for p in blue_pts], mode="markers",
                         marker=dict(color="#0000ff", size=4.2, line=dict(width=0)), showlegend=False))
fig.add_trace(go.Scatter(x=[p[0] for p in red_pts], y=[p[1] for p in red_pts], mode="markers",
                         marker=dict(color="#ff0000", size=4.2, line=dict(width=0)), showlegend=False))

axis = dict(showgrid=False, zeroline=False, showline=True, linecolor="black", linewidth=1, mirror=True,
            ticks="outside", ticklen=4, tickwidth=1, tickcolor="black",
            tickfont=dict(family="DejaVu Sans", size=13.9, color="black"))
fig.update_layout(width=1000, height=1000, margin=dict(l=125.5, r=99.5, t=120.5, b=109.5, autoexpand=False),
                  paper_bgcolor="white", plot_bgcolor="white", showlegend=False,
                  xaxis=dict(axis, range=[-76.7, 80.2], tickmode="array", tickvals=x_ticks, ticktext=x_labels),
                  yaxis=dict(axis, range=[-71.2, 75.4], tickmode="array", tickvals=y_ticks, ticktext=y_labels))
fig.write_html("out.html", post_script="document.body.style.margin='0';", config=dict(displayModeBar=False))
